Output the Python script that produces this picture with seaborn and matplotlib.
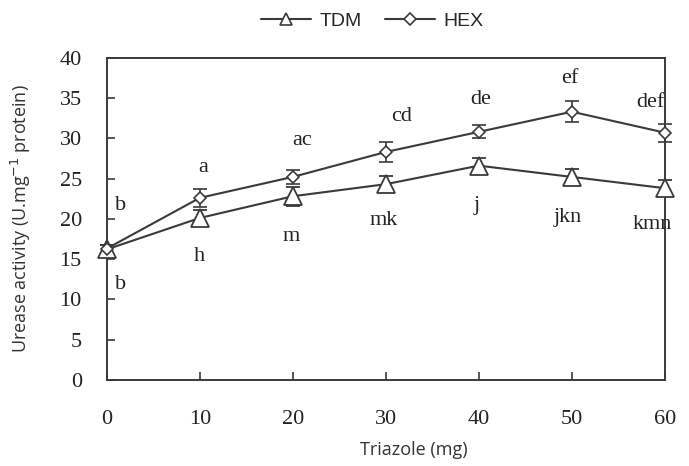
import numpy as np
import pandas as pd
import matplotlib
matplotlib.use("Agg")
import matplotlib.pyplot as plt
import seaborn as sns
from matplotlib.lines import Line2D

# ---- data ----
triazole = [0, 10, 20, 30, 40, 50, 60]
tdm = [16.2, 20.1, 22.8, 24.3, 26.6, 25.2, 23.8]
tdm_err = [0.6, 1.0, 1.2, 1.0, 1.0, 1.0, 1.0]
hex_ = [16.3, 22.6, 25.2, 28.3, 30.8, 33.3, 30.7]
hex_err = [0.5, 1.1, 0.9, 1.2, 0.8, 1.3, 1.1]

tdm_letters = ["b", "h", "m", "mk", "j", "jkn", "kmn"]
hex_letters = ["b", "a", "ac", "cd", "de", "ef", "def"]
tdm_lab_x = [1.5, 9.9, 19.8, 29.8, 39.8, 49.6, 58.6]
tdm_lab_y = [11.8, 15.3, 17.8, 19.8, 21.6, 20.1, 19.3]
hex_lab_x = [1.5, 10.4, 21.0, 31.7, 40.2, 49.8, 58.5]
hex_lab_y = [21.6, 26.4, 29.7, 32.7, 34.8, 37.4, 34.4]

series_names = ["TDM", "HEX"]

sns.set_style("white")
plt.rcParams["font.family"] = ["Liberation Serif", "DejaVu Serif"]

fig = plt.figure(figsize=(6.89, 4.66), dpi=100)
ax = fig.add_axes([0.155, 0.185, 0.81, 0.691])

df = pd.DataFrame({
    "x": triazole * 2,
    "y": tdm + hex_,
    "series": ["TDM"] * len(tdm) + ["HEX"] * len(hex_),
})
col = "#3a3a3a"
sns.lineplot(data=df, x="x", y="y", hue="series", style="series",
             palette={"TDM": col, "HEX": col},
             markers={"TDM": "^", "HEX": "D"}, dashes=False,
             markersize=0, linewidth=1.5, legend=False, ax=ax, zorder=2)

ax.errorbar(triazole, tdm, yerr=tdm_err, fmt="^", ms=13, mfc="white",
            mec=col, mew=1.3, ecolor=col, elinewidth=1.2, capsize=5,
            capthick=1.5, zorder=3, clip_on=False)
ax.errorbar(triazole, hex_, yerr=hex_err, fmt="D", ms=6.5, mfc="white",
            mec=col, mew=1.2, ecolor=col, elinewidth=1.2, capsize=5,
            capthick=1.5, zorder=3, clip_on=False)

for lx, ly, t in zip(tdm_lab_x, tdm_lab_y, tdm_letters):
    ax.text(lx, ly, t, ha="center", va="center", fontsize=16, color="#222222")
for lx, ly, t in zip(hex_lab_x, hex_lab_y, hex_letters):
    ax.text(lx, ly, t, ha="center", va="center", fontsize=16, color="#222222")

ax.set_xlim(0, 60)
ax.set_ylim(0, 40)
ax.set_xticks(triazole)
ax.set_yticks(np.arange(0, 41, 5))
ax.tick_params(axis="both", direction="in", length=6, width=1.2, color=col,
               labelsize=16, labelcolor="#222222", bottom=True, left=True,
               top=False, right=False)
ax.tick_params(axis="x", pad=22)
ax.tick_params(axis="y", pad=18)
for s in ax.spines.values():
    s.set_color(col)
    s.set_linewidth(1.4)
    s.set_visible(True)

sans = ["Open Sans", "DejaVu Sans"]
ax.set_xlabel("Triazole (mg)", fontsize=13, family=sans, color="#333333")
ax.xaxis.set_label_coords(0.55, -0.19)
ax.set_ylabel("Urease activity (U.mg$^{-1}$ protein)", fontsize=13, family=sans,
              color="#333333")
ax.yaxis.set_label_coords(-0.133, 0.5)

handles = [
    Line2D([], [], color=col, lw=1.5, marker="^", ms=9, mfc="white", mec=col, mew=1.2),
    Line2D([], [], color=col, lw=1.5, marker="D", ms=6, mfc="white", mec=col, mew=1.2),
]
fig.legend(handles, series_names, loc="center", bbox_to_anchor=(372 / 689, 1 - 21 / 466),
           ncol=2, frameon=False, handlelength=2.6, columnspacing=1.2,
           handletextpad=0.4,
           prop={"family": ["Liberation Sans Narrow", "Liberation Sans"], "size": 14})

fig.savefig("out.png", dpi=100)
